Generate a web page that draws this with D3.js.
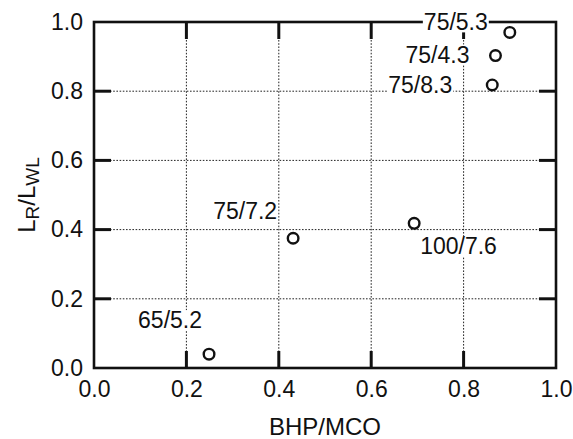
<!DOCTYPE html>
<html>
<head>
<meta charset="utf-8">
<script src="https://cdn.jsdelivr.net/npm/d3@7"></script>
<style>
  html, body { margin: 0; padding: 0; background: #fff; }
  svg { display: block; font-family: "Liberation Sans", Arial, Helvetica, sans-serif; }
</style>
</head>
<body>
<svg id="chart" width="573" height="439"></svg>
<script>
// Run labels (speed/ratio) and their measured ratios
const labels = ["65/5.2", "75/7.2", "100/7.6", "75/8.3", "75/4.3", "75/5.3"];
const bhpMco = [0.249, 0.431, 0.693, 0.862, 0.869, 0.900];
const lrLwl  = [0.040, 0.375, 0.418, 0.818, 0.903, 0.970];
const tickValues = [0.0, 0.2, 0.4, 0.6, 0.8, 1.0];
const tickText = ["0.0", "0.2", "0.4", "0.6", "0.8", "1.0"];

const svg = d3.select("#chart");
const m = { left: 94, right: 17, top: 22, bottom: 71 };
const W = 573, H = 439;

const x = d3.scaleLinear().domain([0, 1]).range([m.left, W - m.right]);
const y = d3.scaleLinear().domain([0, 1]).range([H - m.bottom, m.top]);

const inner = tickValues.filter(v => v > 0 && v < 1);
const fmt = d => tickText[tickValues.indexOf(d)];
const tickLen = 17;

// dotted grid
const grid = svg.append("g").attr("stroke", "#222").attr("stroke-width", 1)
  .attr("stroke-dasharray", "1.6,1.6");
grid.selectAll("line.v").data(inner).join("line").attr("class", "v")
  .attr("x1", d => x(d)).attr("x2", d => x(d))
  .attr("y1", y(0)).attr("y2", y(1));
grid.selectAll("line.h").data(inner).join("line").attr("class", "h")
  .attr("y1", d => y(d)).attr("y2", d => y(d))
  .attr("x1", x(0)).attr("x2", x(1));

// tick labels via d3 axes (no tick marks; those are drawn inward below)
function styleAxis(g) {
  g.select(".domain").remove();
  g.selectAll(".tick line").remove();
  g.selectAll(".tick text").attr("fill", "#111").attr("font-size", 23)
    .attr("font-family", "Liberation Sans, Arial, sans-serif");
}
svg.append("g").attr("transform", `translate(0,${y(0)})`)
  .call(d3.axisBottom(x).tickValues(tickValues).tickFormat(fmt)
    .tickSize(0).tickPadding(13))
  .call(styleAxis);
svg.append("g").attr("transform", `translate(${x(0)},0)`)
  .call(d3.axisLeft(y).tickValues(tickValues).tickFormat(fmt)
    .tickSize(0).tickPadding(11))
  .call(styleAxis);

// inward tick marks on all four sides
const ticks = svg.append("g").attr("stroke", "#111").attr("stroke-width", 3);
ticks.selectAll("line.b").data(inner).join("line").attr("class", "b")
  .attr("x1", d => x(d)).attr("x2", d => x(d))
  .attr("y1", y(0)).attr("y2", y(0) - tickLen);
ticks.selectAll("line.t").data(inner).join("line").attr("class", "t")
  .attr("x1", d => x(d)).attr("x2", d => x(d))
  .attr("y1", y(1)).attr("y2", y(1) + tickLen);
ticks.selectAll("line.l").data(inner).join("line").attr("class", "l")
  .attr("y1", d => y(d)).attr("y2", d => y(d))
  .attr("x1", x(0)).attr("x2", x(0) + tickLen);
ticks.selectAll("line.r").data(inner).join("line").attr("class", "r")
  .attr("y1", d => y(d)).attr("y2", d => y(d))
  .attr("x1", x(1)).attr("x2", x(1) - tickLen);

// frame
svg.append("rect")
  .attr("x", x(0)).attr("y", y(1))
  .attr("width", x(1) - x(0)).attr("height", y(0) - y(1))
  .attr("fill", "none").attr("stroke", "#111").attr("stroke-width", 2.6);

// point labels, placed around each marker on a white backing
const labelPlacement = {
  "65/5.2":  { dx: -7,  dy: -26, anchor: "end" },
  "75/7.2":  { dx: -16, dy: -19, anchor: "end" },
  "100/7.6": { dx: 6,   dy: 31,  anchor: "start" },
  "75/8.3":  { dx: -40, dy: 8,   anchor: "end" },
  "75/4.3":  { dx: -26, dy: 7,   anchor: "end" },
  "75/5.3":  { dx: -22, dy: -2,  anchor: "end" }
};

const points = labels.map((l, i) => ({ label: l, x: bhpMco[i], y: lrLwl[i] }));

const lab = svg.append("g");
points.forEach(p => {
  const pl = labelPlacement[p.label];
  const t = lab.append("text")
    .attr("x", x(p.x) + pl.dx).attr("y", y(p.y) + pl.dy)
    .attr("text-anchor", pl.anchor)
    .attr("font-size", 23).attr("fill", "#111")
    .text(p.label);
  const bb = t.node().getBBox();
  lab.insert("rect", () => t.node())
    .attr("x", bb.x - 1).attr("y", bb.y + 3)
    .attr("width", bb.width + 2).attr("height", bb.height - 6)
    .attr("fill", "#fff");
});

// markers
svg.append("g").selectAll("circle").data(points).join("circle")
  .attr("cx", d => x(d.x)).attr("cy", d => y(d.y)).attr("r", 5.3)
  .attr("fill", "none").attr("stroke", "#111").attr("stroke-width", 2.4);

// axis titles
svg.append("text")
  .attr("x", (x(0) + x(1)) / 2).attr("y", 435)
  .attr("text-anchor", "middle").attr("font-size", 24).attr("fill", "#111")
  .text("BHP/MCO");

const yt = svg.append("text")
  .attr("transform", `translate(35,${(y(0) + y(1)) / 2}) rotate(-90)`)
  .attr("text-anchor", "middle").attr("font-size", 24).attr("fill", "#111");
yt.append("tspan").text("L");
yt.append("tspan").attr("font-size", 19).attr("dy", 4).text("R");
yt.append("tspan").attr("dy", -4).text("/L");
yt.append("tspan").attr("font-size", 19).attr("dy", 4).text("WL");
</script>
</body>
</html>
